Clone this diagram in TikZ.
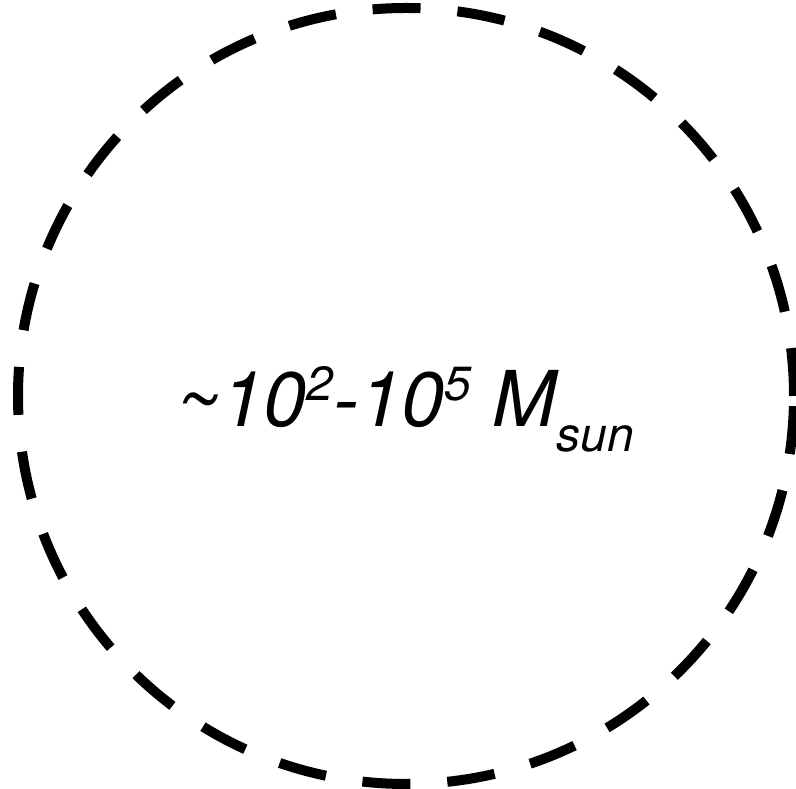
\documentclass[tikz,border=0pt]{standalone}
\usepackage{fontspec}
\setmainfont{TeX Gyre Heros}
\begin{document}
\begin{tikzpicture}[x=1pt,y=1pt,
  ring/.style={line width=10pt,dash pattern=on 48pt off 37pt},
  lbl/.style={inner sep=0pt,font=\fontsize{77}{80}\selectfont\itshape},
  sup/.style={}]
\useasboundingbox (0,0) rectangle (796,789);
\node[circle,draw,ring,minimum size=776pt,inner sep=0pt] (c) at (406,393) {};
\node[lbl,anchor=base west] (t) at (176,362)
  {\textasciitilde10\raisebox{26pt}{\fontsize{48}{50}\selectfont 2}-10\raisebox{26pt}{\fontsize{48}{50}\selectfont 5} M\raisebox{-25pt}{\fontsize{48}{50}\selectfont sun}};
\end{tikzpicture}
\end{document}
